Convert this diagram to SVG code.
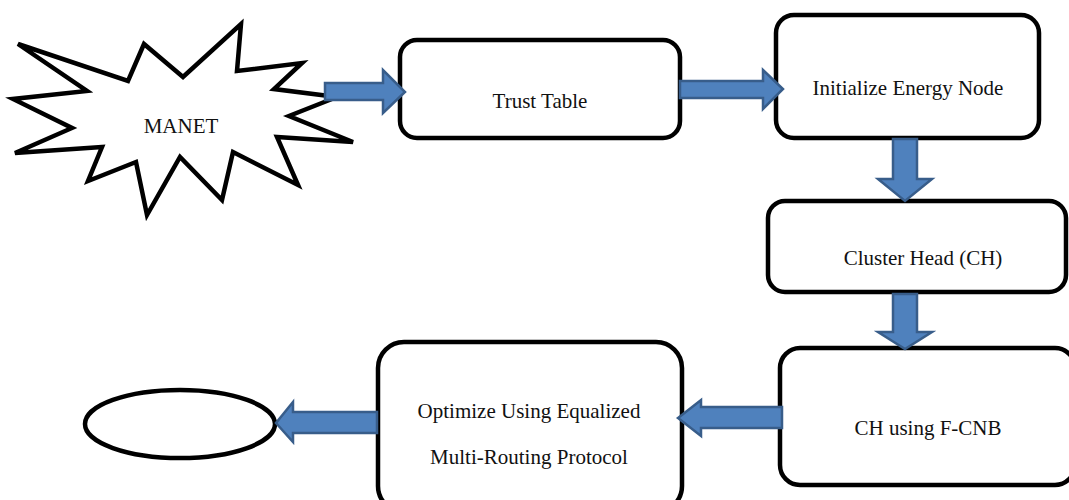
<svg xmlns="http://www.w3.org/2000/svg" width="1069" height="500" viewBox="0 0 1069 500">
<style>
.box{fill:#fff;stroke:#000;stroke-width:4.5}
.lbl{font-family:"Liberation Serif","Times New Roman",serif;font-size:21px;fill:#111;text-anchor:middle}
.arr{fill:#4F81BD;stroke:#385D8A;stroke-width:2.5;stroke-linejoin:miter}
</style>
<rect width="1069" height="500" fill="#fff"/>
<g id="manet">
<polygon points="18,44 128,81 144,44 183,77 241,24 237,71 302,63 274,89 337,97 289,116 353,142 277,137 298,185 233,152 222,200 180,157 147,215 136,162 88,181 102,147 15,153 72,128 13,99 87,91" fill="#fff" stroke="#000" stroke-width="4.5" stroke-linejoin="miter"/>
<text class="lbl" x="181" y="133">MANET</text>
</g>
<g id="trust-table">
<rect class="box" x="400" y="40" width="280" height="98" rx="17"/>
<text class="lbl" x="540" y="108">Trust Table</text>
</g>
<g id="init-energy">
<rect class="box" x="776" y="15" width="263" height="123" rx="18"/>
<text class="lbl" x="908" y="95">Initialize Energy Node</text>
</g>
<g id="cluster-head">
<rect class="box" x="768" y="201" width="298" height="91" rx="17"/>
<text class="lbl" x="923" y="265">Cluster Head (CH)</text>
</g>
<g id="ch-fcnb">
<rect class="box" x="780" y="348" width="295" height="137" rx="20"/>
<text class="lbl" x="928" y="435">CH using F-CNB</text>
</g>
<g id="optimize">
<rect class="box" x="378" y="342" width="304" height="170" rx="26"/>
<text class="lbl" x="529" y="418">Optimize Using Equalized</text>
<text class="lbl" x="529" y="464">Multi-Routing Protocol</text>
</g>
<g id="end">
<ellipse cx="180" cy="424" rx="95" ry="34" fill="#fff" stroke="#000" stroke-width="4.5"/>
</g>
<g id="connectors">
<polygon class="arr" points="325,83 383,83 383,70 405,92 383,113 383,100 325,100"/>
<polygon class="arr" points="680,81 763,81 763,70 783,89 763,109 763,98 680,98"/>
<polygon class="arr" points="893,139 917,139 917,179 932,179 905,201 878,179 893,179"/>
<polygon class="arr" points="893,294 917,294 917,332 932,332 905,349 878,332 893,332"/>
<polygon class="arr" points="782,407 782,428 701,428 701,436 678,418 701,400 701,407"/>
<polygon class="arr" points="377,412 377,433 293,433 293,442 276,423 293,402 293,412"/>
</g>
</svg>
